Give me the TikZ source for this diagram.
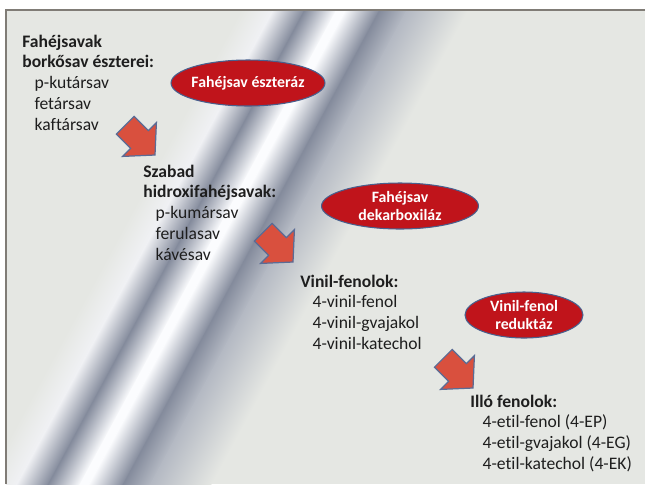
\documentclass[tikz,border=0pt]{standalone}
\usepackage{fontspec}
\setmainfont{Carlito}[Ligatures=NoCommon]
\usetikzlibrary{shapes.geometric}

\definecolor{slidebg}{RGB}{229,231,227}
\definecolor{framegray}{RGB}{128,124,118}
\definecolor{silverdark}{RGB}{132,139,156}
\definecolor{silvermid}{RGB}{180,185,195}
\definecolor{silverlight}{RGB}{240,241,244}
\definecolor{silverwhite}{RGB}{251,252,254}
\definecolor{enzred}{RGB}{192,20,27}
\definecolor{enzedge}{RGB}{72,96,142}
\definecolor{arrred}{RGB}{217,80,62}
\definecolor{arredge}{RGB}{90,108,150}
\definecolor{txtdark}{RGB}{30,30,30}

\newcommand{\itemind}{\hspace*{7pt}}

\tikzset{
  enzyme/.style={ellipse, fill=enzred, draw=enzedge, line width=0.6pt, inner sep=0pt, minimum height=0.92cm},
  enztext/.style={inner sep=0pt, align=center, text=white, font=\fontsize{9}{10.4}\selectfont\bfseries},
  group/.style={anchor=north west, inner sep=0pt, align=left, text=txtdark, font=\fontsize{10}{11.8}\selectfont},
  blockarr/.pic={
    \draw[fill=arrred, draw=arredge, line width=0.7pt, line join=miter]
      (-42,12.5) -- (-22,12.5) -- (-22,24) -- (0,0) -- (-22,-24) -- (-22,-12.5) -- (-42,-12.5) -- cycle;
  }
}

\begin{document}
\begin{tikzpicture}[x=0.02cm, y=-0.02cm]
  \useasboundingbox (0,0) rectangle (645,484);
  \fill[white] (0,0) rectangle (645,484);
  \fill[slidebg] (6,10) rectangle (645,484);

  % silver band
  \begin{scope}
    \clip (6,10) rectangle (645,484);
    \begin{scope}[transform canvas={rotate around={-28.4:(212,248)}}, shift={(212,248)}]
      \shade[left color=slidebg, right color=silverlight] (-88,-700) rectangle (-59.5,700);
      \shade[left color=silverlight, right color=silverdark] (-60,-700) rectangle (-31.5,700);
      \shade[left color=silverdark, right color=silverwhite] (-32,-700) rectangle (-3.5,700);
      \fill[silverwhite] (-4,-700) rectangle (4,700);
      \shade[left color=silverwhite, right color=silverdark] (3.5,-700) rectangle (34.5,700);
      \shade[left color=silverdark, right color=silvermid] (34,-700) rectangle (58.5,700);
      \shade[left color=silvermid, right color=slidebg] (58,-700) rectangle (112,700);
    \end{scope}
  \end{scope}
  \draw[framegray, line width=1.5pt] (6,484) -- (6,10) -- (645,10);

  % groups of compounds
  \node[group] (acid1) at (22,34.5) {\textbf{Fahéjsavak}\\\textbf{borkősav észterei:}\\
    \itemind p-kutársav\\\itemind fetársav\\\itemind kaftársav};
  \node[group] (acid2) at (143,164.5) {\textbf{Szabad}\\\textbf{hidroxifahéjsavak:}\\
    \itemind p-kumársav\\\itemind ferulasav\\\itemind kávésav};
  \node[group] (acid3) at (300,274.5) {\textbf{Vinil-fenolok:}\\
    \itemind 4-vinil-fenol\\\itemind 4-vinil-gvajakol\\\itemind 4-vinil-katechol};
  \node[group] (acid4) at (470,394.5) {\textbf{Illó fenolok:}\\
    \itemind 4-etil-fenol (4-EP)\\\itemind 4-etil-gvajakol (4-EG)\\\itemind 4-etil-katechol (4-EK)};

  % enzymes
  \node[enzyme, minimum width=3.08cm] (est) at (248,83) {};
  \node[enztext] (est-t) at (est) {Fahéjsav észteráz};
  \node[enzyme, minimum width=3.14cm] (dec) at (400,206) {};
  \node[enztext] (dec-t) at (dec) {Fahéjsav\\dekarboxiláz};
  \node[enzyme, minimum width=2.36cm] (red) at (524,315) {};
  \node[enztext] (red-t) at (red) {Vinil-fenol\\reduktáz};

  % arrows
  \coordinate (tip1) at (155,155);
  \coordinate (tip2) at (293,262);
  \coordinate (tip3) at (473,388);
  \pic[rotate=-45] at (tip1) {blockarr};
  \pic[rotate=-45] at (tip2) {blockarr};
  \pic[rotate=-45] at (tip3) {blockarr};
\end{tikzpicture}
\end{document}
